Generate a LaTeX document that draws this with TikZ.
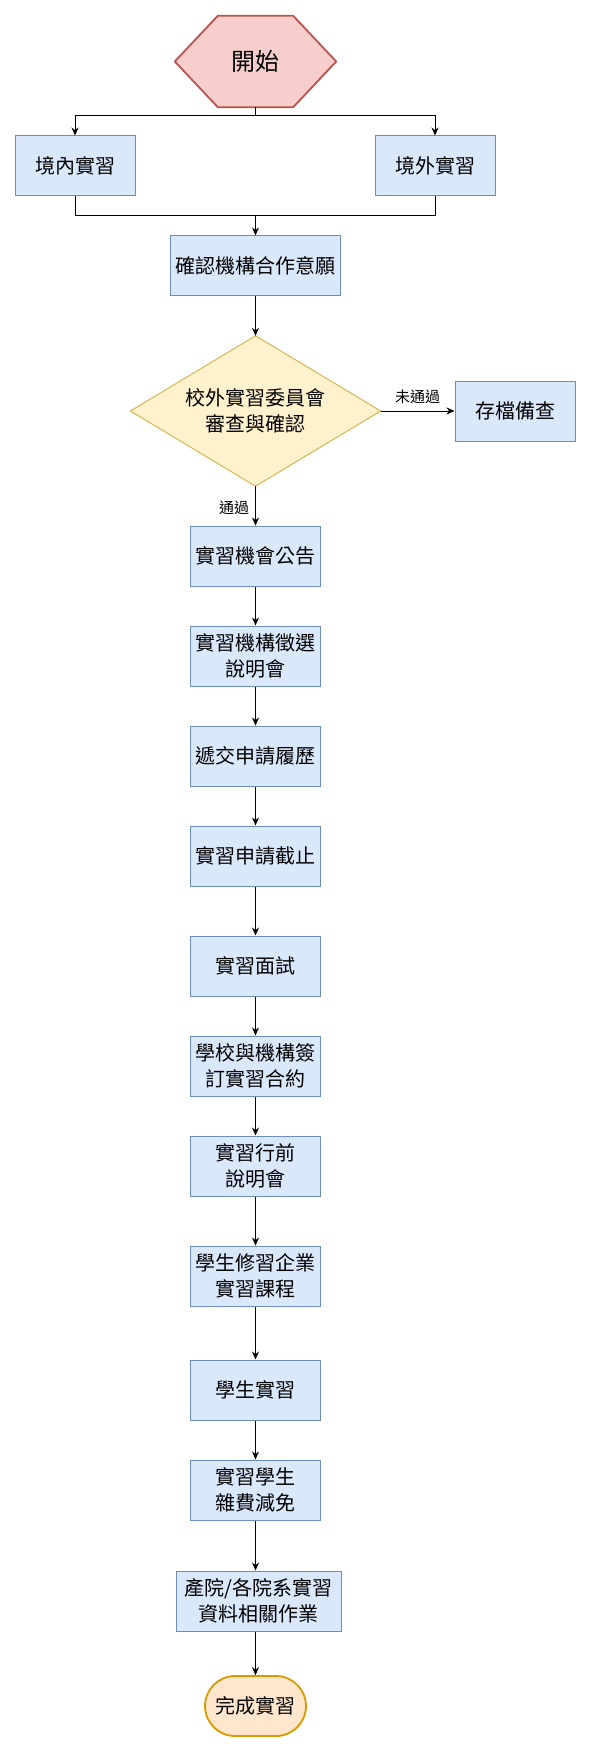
\documentclass[tikz,border=0pt]{standalone}
\usepackage{fontspec}
\newfontfamily\cjk{Noto Sans CJK TC}
\usetikzlibrary{arrows.meta,backgrounds,calc}
\definecolor{bfill}{HTML}{DAE8FC}
\definecolor{bline}{HTML}{6C8EBF}
\definecolor{rfill}{HTML}{F8CECC}
\definecolor{rline}{HTML}{B85450}
\definecolor{yfill}{HTML}{FFF2CC}
\definecolor{yline}{HTML}{D6B656}
\definecolor{ofill}{HTML}{FFE6CC}
\definecolor{oline}{HTML}{D79B00}
\tikzset{
  txt/.style={font=\cjk\fontsize{20}{26}\selectfont, align=center, inner sep=0pt},
  stepbox/.style={txt, draw=bline, fill=bfill, line width=1pt, minimum width=130pt, minimum height=60pt},
  lbl/.style={font=\cjk\fontsize{15}{18}\selectfont, inner sep=0pt},
  conn/.style={line width=1pt, draw=black},
  arr/.style={conn, -{Stealth[length=8pt,width=7pt]}},
}
\begin{document}
\begin{tikzpicture}[x=1pt,y=-1pt]
\useasboundingbox (0,0) rectangle (591,1752);
% start hexagon
\node[txt, font=\cjk\fontsize{24}{28}\selectfont, minimum width=161pt, minimum height=91pt] (hex) at (255.5,61.5) {開始};
\begin{scope}[on background layer]
\draw[draw=rline, fill=rfill, line width=1.8pt, line join=round]
  (hex.west) -- ([xshift=43pt]hex.north west) -- ([xshift=-43pt]hex.north east)
  -- (hex.east) -- ([xshift=-43pt]hex.south east) -- ([xshift=43pt]hex.south west) -- cycle;
\end{scope}
\node[stepbox, minimum width=120pt] (b1) at (75,166) {境內實習};
\node[stepbox, minimum width=120pt] (b2) at (435,166) {境外實習};
\node[stepbox, minimum width=170pt] (b3) at (255.5,266) {確認機構合作意願};
% decision
\node[txt, minimum width=250pt, minimum height=150pt] (dia) at (255.5,411) {校外實習委員會\\審查與確認};
\begin{scope}[on background layer]
\draw[draw=yline, fill=yfill, line width=1pt]
  (dia.north) -- (dia.east) -- (dia.south) -- (dia.west) -- cycle;
\end{scope}
\node[stepbox, minimum width=120pt] (arch) at (515,411) {存檔備查};
\node[stepbox] (n1) at (255.5,556) {實習機會公告};
\node[stepbox] (n2) at (255.5,656) {實習機構徵選\\說明會};
\node[stepbox] (n3) at (255.5,756) {遞交申請履歷};
\node[stepbox] (n4) at (255.5,856) {實習申請截止};
\node[stepbox] (n5) at (255.5,966) {實習面試};
\node[stepbox] (n6) at (255.5,1066) {學校與機構簽\\訂實習合約};
\node[stepbox] (n7) at (255.5,1166) {實習行前\\說明會};
\node[stepbox] (n8) at (255.5,1276) {學生修習企業\\實習課程};
\node[stepbox] (n9) at (255.5,1390) {學生實習};
\node[stepbox] (n10) at (255.5,1490) {實習學生\\雜費減免};
\node[stepbox, minimum width=165pt] (n11) at (258.5,1601) {產院/各院系實習\\資料相關作業};
\node[txt, draw=oline, fill=ofill, line width=1.8pt, minimum width=101pt, minimum height=60pt, rounded corners=30pt] (end) at (255.5,1706) {完成實習};
% connectors
\coordinate (s) at (255.5,116);
\coordinate (j) at (255.5,216);
\draw[conn] (hex.south) -- (s);
\draw[arr] (s) -| (b1.north);
\draw[arr] (s) -| (b2.north);
\draw[conn] (b1.south) |- (j);
\draw[conn] (b2.south) |- (j);
\draw[arr] (j) -- (b3.north);
\draw[arr] (b3.south) -- (dia.north);
\draw[arr] (dia.east) -- node[lbl, above=7pt] {未通過} (arch.west);
\draw[arr] (dia.south) -- node[lbl, left=6pt, pos=0.55] {通過} (n1.north);
\draw[arr] (n1) -- (n2);
\draw[arr] (n2) -- (n3);
\draw[arr] (n3) -- (n4);
\draw[arr] (n4) -- (n5);
\draw[arr] (n5) -- (n6);
\draw[arr] (n6) -- (n7);
\draw[arr] (n7) -- (n8);
\draw[arr] (n8) -- (n9);
\draw[arr] (n9) -- (n10);
\draw[arr] (n10.south) -- (n10.south |- n11.north);
\draw[arr] (n10.south |- n11.south) -- (end.north);
\end{tikzpicture}
\end{document}
